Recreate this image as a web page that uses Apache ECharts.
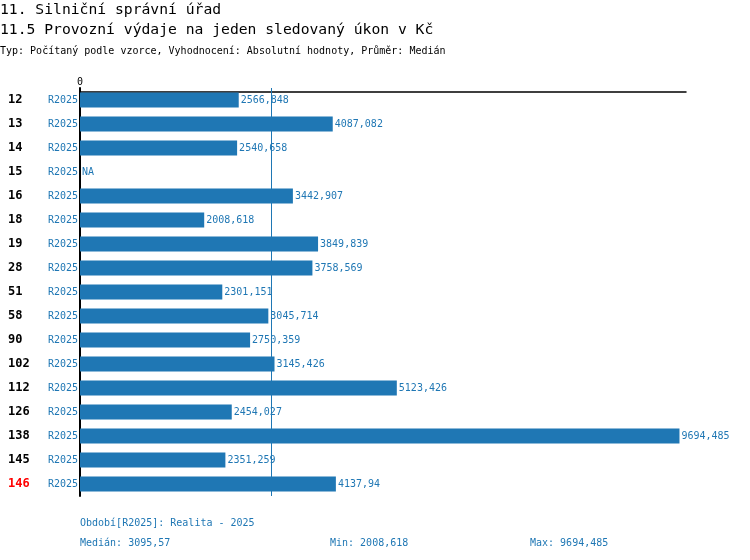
<!DOCTYPE html>
<html>
<head>
<meta charset="utf-8">
<script src="https://cdn.jsdelivr.net/npm/echarts@6/dist/echarts.min.js"></script>
<style>html,body{margin:0;padding:0;background:#fff}#c{width:750px;height:560px}</style>
</head>
<body>
<div id="c"></div>
<script>
const titleMain = '11. Silniční správní úřad';
const titleSub = '11.5 Provozní výdaje na jeden sledovaný úkon v Kč';
const titleInfo = 'Typ: Počítaný podle vzorce, Vyhodnocení: Absolutní hodnoty, Průměr: Medián';
const periodNote = 'Období[R2025]: Realita - 2025';
const ids = ['12','13','14','15','16','18','19','28','51','58','90','102','112','126','138','145','146'];
const periods = ['R2025','R2025','R2025','R2025','R2025','R2025','R2025','R2025','R2025','R2025','R2025','R2025','R2025','R2025','R2025','R2025','R2025'];
const values = [2566.848,4087.082,2540.658,null,3442.907,2008.618,3849.839,3758.569,2301.151,3045.714,2750.359,3145.426,5123.426,2454.027,9694.485,2351.259,4137.94];
const highlighted = ['146'];

const BLUE = '#1f77b4';
const FONT = '"DejaVu Sans Mono","Liberation Mono",monospace';
const fmt = v => String(v).replace('.', ',');
const valid = values.filter(v => v != null).slice().sort((a,b)=>a-b);
const n = valid.length;
const median = n % 2 ? valid[(n-1)/2] : (valid[n/2-1] + valid[n/2]) / 2;
const vmin = valid[0], vmax = valid[n-1];
const medTxt = fmt(Math.round(median*1000)/1000);

const ts = (size, color) => ({fontFamily: FONT, fontSize: size, fontWeight: 'normal', color: color});

const chart = echarts.init(document.getElementById('c'));
chart.setOption({
  animation: false,
  textStyle: {fontFamily: FONT},
  title: [
    {text: titleMain, left: 0, top: 3, padding: 0, textStyle: ts(14.7, '#000')},
    {text: titleSub, left: 0, top: 23, padding: 0, textStyle: ts(14.7, '#000')},
    {text: titleInfo, left: 0, top: 46, padding: 0, textStyle: ts(10, '#000')},
    {text: periodNote, left: 80, top: 518, padding: 0, textStyle: ts(10, BLUE)},
    {text: 'Medián: ' + medTxt, left: 80, top: 538, padding: 0, textStyle: ts(10, BLUE)},
    {text: 'Min: ' + fmt(vmin), left: 330, top: 538, padding: 0, textStyle: ts(10, BLUE)},
    {text: 'Max: ' + fmt(vmax), left: 530, top: 538, padding: 0, textStyle: ts(10, BLUE)}
  ],
  grid: {left: 80, right: 64, top: 88, bottom: 64, containLabel: false},
  xAxis: {
    type: 'value', position: 'top', min: 0, max: 9800, interval: 9800, offset: -4,
    axisLine: {show: true, lineStyle: {color: '#000', width: 1.5}},
    axisTick: {show: false},
    splitLine: {show: false},
    axisLabel: {showMaxLabel: false, margin: 5, fontFamily: FONT, fontSize: 10, color: '#000'}
  },
  yAxis: {
    type: 'category', inverse: true, data: ids,
    axisLine: {show: true, lineStyle: {color: '#000', width: 2}},
    axisTick: {show: false},
    axisLabel: {
      margin: 2,
      formatter: (v, i) => (highlighted.includes(v) ? '{hl|' + v + '}' : '{id|' + v + '}') + '{per|' + periods[i] + '}',
      rich: {
        id: {width: 39, align: 'left', fontFamily: FONT, fontSize: 12, fontWeight: 'bold', color: '#000'},
        hl: {width: 39, align: 'left', fontFamily: FONT, fontSize: 12, fontWeight: 'bold', color: '#ff0000'},
        per: {width: 31, align: 'right', fontFamily: FONT, fontSize: 10, color: BLUE}
      }
    }
  },
  series: [{
    type: 'bar',
    barCategoryGap: '37%',
    itemStyle: {color: BLUE},
    label: {show: true, position: 'right', distance: 2, fontFamily: FONT, fontSize: 10, color: BLUE,
      formatter: p => fmt(p.value)},
    data: values.map(v => v == null ? {value: 0, label: {formatter: 'NA'}} : v),
    markLine: {
      silent: true, symbol: 'none', label: {show: false},
      lineStyle: {color: BLUE, type: 'solid', width: 1},
      data: [{xAxis: median}]
    }
  }]
});
</script>
</body>
</html>
